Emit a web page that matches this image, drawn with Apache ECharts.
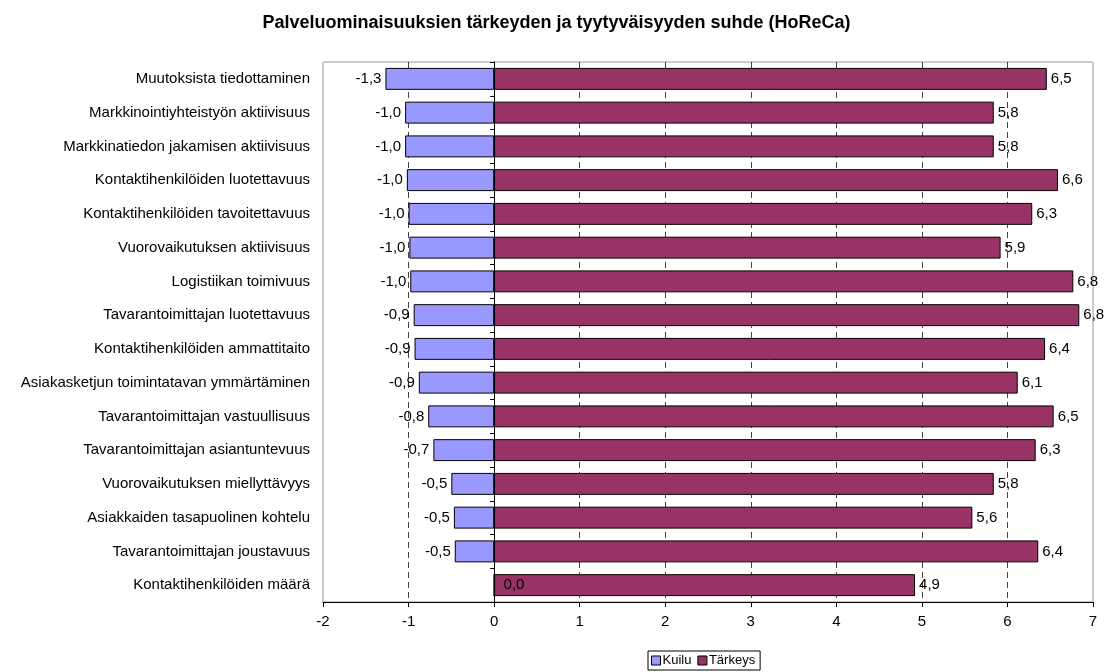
<!DOCTYPE html>
<html>
<head>
<meta charset="utf-8">
<script src="https://cdn.jsdelivr.net/npm/echarts@6/dist/echarts.min.js"></script>
<style>
  html, body { margin: 0; padding: 0; background: #fff; }
  #chart { width: 1113px; height: 672px; }
</style>
</head>
<body>
<div id="chart"></div>
<script>
// Service attributes (top to bottom)
const categories = [
  'Muutoksista tiedottaminen',
  'Markkinointiyhteistyön aktiivisuus',
  'Markkinatiedon jakamisen aktiivisuus',
  'Kontaktihenkilöiden luotettavuus',
  'Kontaktihenkilöiden tavoitettavuus',
  'Vuorovaikutuksen aktiivisuus',
  'Logistiikan toimivuus',
  'Tavarantoimittajan luotettavuus',
  'Kontaktihenkilöiden ammattitaito',
  'Asiakasketjun toimintatavan ymmärtäminen',
  'Tavarantoimittajan vastuullisuus',
  'Tavarantoimittajan asiantuntevuus',
  'Vuorovaikutuksen miellyttävyys',
  'Asiakkaiden tasapuolinen kohtelu',
  'Tavarantoimittajan joustavuus',
  'Kontaktihenkilöiden määrä'
];

// Gap between satisfaction and importance
const kuilu = [-1.27, -1.04, -1.04, -1.02, -1.00, -0.99, -0.98, -0.94, -0.93, -0.88, -0.77, -0.71, -0.50, -0.47, -0.46, 0.0];

// Importance
const tarkeys = [6.46, 5.84, 5.84, 6.59, 6.29, 5.92, 6.77, 6.84, 6.44, 6.12, 6.54, 6.33, 5.84, 5.59, 6.36, 4.92];

const xTicks = { min: -2, max: 7, interval: 1 };

const fmt = v => v.toFixed(1).replace('.', ',');
const FONT = '"Liberation Sans", Arial, sans-serif';
const LABEL_SIZE = 15;

const chart = echarts.init(document.getElementById('chart'), null, { renderer: 'canvas' });

chart.setOption({
  animation: false,
  backgroundColor: '#fff',
  textStyle: { fontFamily: FONT },
  title: {
    text: 'Palveluominaisuuksien tärkeyden ja tyytyväisyyden suhde (HoReCa)',
    left: 'center',
    top: 9,
    textStyle: { fontFamily: FONT, fontSize: 18, fontWeight: 'bold', color: '#000' }
  },
  legend: {
    data: ['Kuilu', 'Tärkeys'],
    left: 648,
    top: 651,
    orient: 'horizontal',
    icon: 'rect',
    itemWidth: 9,
    itemHeight: 9,
    itemGap: 6,
    padding: [3, 5, 3, 3],
    borderColor: '#000',
    borderWidth: 1,
    itemStyle: { borderColor: '#000', borderWidth: 1 },
    textStyle: { fontFamily: FONT, fontSize: 13, color: '#000', padding: [0, 0, 0, -3] }
  },
  grid: {
    left: 323,
    right: 20,
    top: 62,
    bottom: 70,
    show: true,
    borderColor: '#999',
    borderWidth: 1
  },
  xAxis: {
    type: 'value',
    min: xTicks.min,
    max: xTicks.max,
    interval: xTicks.interval,
    axisLine: { show: true, onZero: false, lineStyle: { color: '#000', width: 1 } },
    axisTick: { show: true, length: 5, lineStyle: { color: '#000' } },
    axisLabel: { fontFamily: FONT, fontSize: LABEL_SIZE, color: '#000', margin: 12 },
    splitLine: {
      show: true,
      showMinLine: false,
      showMaxLine: false,
      lineStyle: { color: '#444', type: [6, 4], width: 1 }
    }
  },
  yAxis: [
    {
      type: 'category',
      data: categories,
      inverse: true,
      position: 'left',
      axisLine: { show: false, onZero: false },
      axisTick: { show: false },
      axisLabel: { fontFamily: FONT, fontSize: LABEL_SIZE, color: '#000', margin: 13 },
      splitLine: { show: false }
    },
    {
      type: 'category',
      data: categories,
      inverse: true,
      position: 'left',
      axisLine: { show: true, onZero: true, lineStyle: { color: '#000', width: 1 } },
      axisTick: { show: true, length: 4, lineStyle: { color: '#000' } },
      axisLabel: { show: false },
      splitLine: { show: false }
    }
  ],
  series: [
    {
      name: 'Kuilu',
      type: 'bar',
      yAxisIndex: 0,
      barCategoryGap: '35%',
      barGap: '-100%',
      data: kuilu.map(v => ({
        value: v,
        label: v >= 0 ? { position: 'right', distance: 9 } : { position: 'left', distance: 4 }
      })),
      itemStyle: { color: '#9999FF', borderColor: '#000', borderWidth: 1 },
      label: {
        show: true,
        formatter: p => fmt(p.value),
        fontFamily: FONT,
        fontSize: LABEL_SIZE,
        color: '#000'
      }
    },
    {
      name: 'Tärkeys',
      type: 'bar',
      yAxisIndex: 0,
      barCategoryGap: '35%',
      barGap: '-100%',
      data: tarkeys,
      itemStyle: { color: '#993366', borderColor: '#000', borderWidth: 1 },
      label: {
        show: true,
        position: 'right',
        distance: 4,
        formatter: p => fmt(p.value),
        fontFamily: FONT,
        fontSize: LABEL_SIZE,
        color: '#000'
      }
    }
  ]
});
</script>
</body>
</html>
